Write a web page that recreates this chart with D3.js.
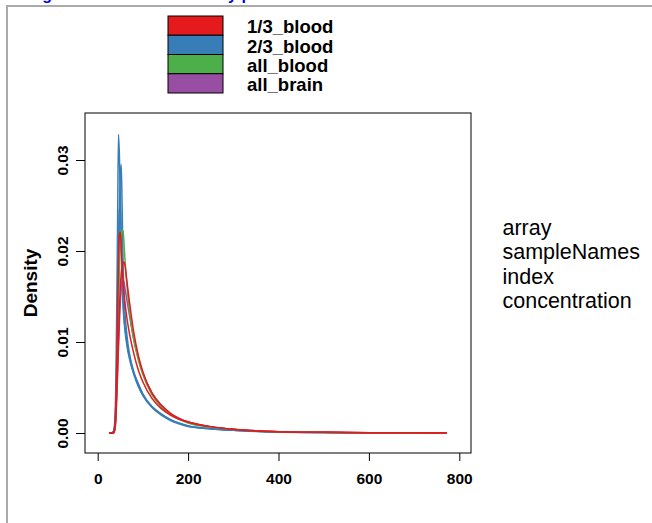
<!DOCTYPE html>
<html>
<head>
<meta charset="utf-8">
<script src="https://cdn.jsdelivr.net/npm/d3@7"></script>
<style>
  html, body { margin: 0; padding: 0; background: #fff; }
  svg { display: block; font-family: 'Liberation Sans', Arial, sans-serif; }
</style>
</head>
<body>
<svg id="chart" width="652" height="523"></svg>
<script>
// shared evaluation grid of the density estimates (intensity)
const xGrid = [25, 30, 35, 38, 40, 42, 44, 46, 48, 50, 52, 54, 56, 58, 60, 65, 70, 80, 90, 100, 120, 140, 160, 180, 200, 250, 300, 400, 500, 600, 700, 772]

const groupNames = ['1/3_blood', '2/3_blood', 'all_blood', 'all_brain']
const groupColors = ['#E41A1C', '#377EB8', '#4DAF4A', '#984EA3']

const blueA = [0, 0, 0.0002, 0.0015, 0.005, 0.013, 0.023, 0.0328, 0.0305, 0.026, 0.021, 0.0165, 0.014, 0.0125, 0.0114, 0.0095, 0.0082, 0.0064, 0.0051, 0.0041, 0.0028, 0.002, 0.0014, 0.001, 0.0007, 0.00045, 0.0003, 0.0001, 0.00005, 0.00003, 0.00001, 0]
const blueB = [0, 0, 0.0001, 0.0008, 0.002, 0.005, 0.01, 0.017, 0.024, 0.0285, 0.0295, 0.025, 0.019, 0.0155, 0.0135, 0.0106, 0.0088, 0.0067, 0.0054, 0.0043, 0.0029, 0.0021, 0.0015, 0.0011, 0.0008, 0.0005, 0.0003, 0.00011, 0.00005, 0.00003, 0.00001, 0]
const blueC = [0, 0, 0.0001, 0.001, 0.003, 0.008, 0.015, 0.021, 0.0245, 0.025, 0.022, 0.018, 0.015, 0.013, 0.0118, 0.0098, 0.0085, 0.0066, 0.0053, 0.0042, 0.0029, 0.0021, 0.0015, 0.00105, 0.00075, 0.00048, 0.0003, 0.0001, 0.00005, 0.00003, 0.00001, 0]
const greenA = [0, 0, 0, 0.0005, 0.0018, 0.005, 0.009, 0.014, 0.018, 0.0205, 0.0218, 0.0223, 0.0222, 0.021, 0.0193, 0.016, 0.0135, 0.0102, 0.008, 0.0064, 0.0042, 0.0029, 0.0021, 0.0015, 0.0011, 0.00065, 0.0004, 0.00014, 0.00006, 0.00003, 0.00001, 0]
const purpleA = [0, 0, 0, 0.0004, 0.0014, 0.0038, 0.0065, 0.0095, 0.012, 0.0142, 0.0158, 0.0166, 0.0168, 0.0166, 0.016, 0.0145, 0.013, 0.0102, 0.0082, 0.0066, 0.0044, 0.0031, 0.0022, 0.0016, 0.0012, 0.0007, 0.0004, 0.00015, 0.00007, 0.00004, 0.00002, 0]
const redA = [0, 0, 0.0001, 0.0008, 0.003, 0.007, 0.013, 0.019, 0.0218, 0.0221, 0.0205, 0.0185, 0.0168, 0.0155, 0.0145, 0.0125, 0.011, 0.0087, 0.0069, 0.0056, 0.0038, 0.0027, 0.002, 0.0015, 0.0012, 0.0007, 0.0004, 0.00015, 0.00007, 0.00004, 0.00002, 0]
const redB = [0, 0, 0, 0.0004, 0.0015, 0.004, 0.007, 0.01, 0.0135, 0.016, 0.0175, 0.0183, 0.0187, 0.0188, 0.0185, 0.0165, 0.0145, 0.011, 0.0085, 0.0067, 0.0044, 0.0031, 0.0022, 0.0016, 0.0012, 0.0007, 0.0004, 0.00015, 0.00007, 0.00004, 0.00002, 0]

// drawing order: last one ends up on top
const samples = [
  { group: 1, values: blueC },
  { group: 1, values: blueB },
  { group: 1, values: blueA },
  { group: 3, values: purpleA },
  { group: 2, values: greenA },
  { group: 0, values: redB },
  { group: 0, values: redA }
]

const xTicks = [0, 200, 400, 600, 800]
const yTicks = [0, 0.01, 0.02, 0.03]
const sideLabels = ['array', 'sampleNames', 'index', 'concentration']

const plot = { left: 85, top: 113, right: 471, bottom: 453 }

const svg = d3.select('#chart')

// page frame and the heading that is scrolled mostly out of view
svg.append('text')
  .attr('x', 4)
  .attr('y', 0)
  .attr('fill', '#0000ee')
  .style('font-weight', 'bold')
  .style('font-size', '16px')
  .text('Background corrected Density plots')

svg.append('line')
  .attr('x1', 6).attr('x2', 652).attr('y1', 6).attr('y2', 6)
  .attr('stroke', '#aaa').attr('stroke-width', 2)
svg.append('line')
  .attr('x1', 7).attr('x2', 7).attr('y1', 6).attr('y2', 523)
  .attr('stroke', '#aaa').attr('stroke-width', 2)

const x = d3.scaleLinear().domain([0, 800]).range([97.7, 459.3])
const y = d3.scaleLinear().domain([0, 0.03]).range([433, 160])

const line = d3.line()
  .x((d, i) => x(xGrid[i]))
  .y(d => y(d))
  .curve(d3.curveMonotoneX)

svg.append('g')
  .attr('class', 'density-lines')
  .selectAll('path')
  .data(samples)
  .enter()
  .append('path')
  .attr('d', d => line(d.values))
  .attr('fill', 'none')
  .attr('stroke', d => groupColors[d.group])
  .attr('stroke-width', 1.5)

svg.append('rect')
  .attr('x', plot.left)
  .attr('y', plot.top)
  .attr('width', plot.right - plot.left)
  .attr('height', plot.bottom - plot.top)
  .attr('fill', 'none')
  .attr('stroke', '#000')
  .attr('stroke-width', 1)

const xAxis = svg.append('g')
  .attr('transform', `translate(0,${plot.bottom})`)
  .call(d3.axisBottom(x).tickValues(xTicks).tickSize(8).tickPadding(0).tickFormat(d3.format('d')))
xAxis.select('.domain').remove()
xAxis.selectAll('line').attr('stroke', '#000')
xAxis.selectAll('text')
  .attr('y', 31)
  .attr('dy', 0)
  .attr('fill', '#000')
  .style('font-family', "'Liberation Sans', Arial, sans-serif")
  .style('font-weight', 'bold')
  .style('font-size', '15.5px')

const yAxis = svg.append('g')
  .attr('transform', `translate(${plot.left},0)`)
  .call(d3.axisLeft(y).tickValues(yTicks).tickSize(9).tickFormat(d3.format('.2f')))
yAxis.select('.domain').remove()
yAxis.selectAll('line').attr('stroke', '#000')
yAxis.selectAll('text')
  .attr('transform', 'rotate(-90)')
  .attr('x', 0)
  .attr('y', -17.5)
  .attr('dy', 0)
  .attr('text-anchor', 'middle')
  .attr('fill', '#000')
  .style('font-family', "'Liberation Sans', Arial, sans-serif")
  .style('font-weight', 'bold')
  .style('font-size', '15.5px')

svg.append('text')
  .attr('transform', `translate(37,${(plot.top + plot.bottom) / 2}) rotate(-90)`)
  .attr('text-anchor', 'middle')
  .style('font-weight', 'bold')
  .style('font-size', '19px')
  .text('Density')

// legend
const legend = svg.append('g').attr('class', 'legend')
const rowHeight = 19.25
groupNames.forEach((name, i) => {
  legend.append('rect')
    .attr('x', 168)
    .attr('y', 16 + i * rowHeight)
    .attr('width', 55)
    .attr('height', rowHeight)
    .attr('fill', groupColors[i])
    .attr('stroke', '#000')
    .attr('stroke-width', 1)
  legend.append('text')
    .attr('x', 247)
    .attr('y', 33.3 + i * rowHeight)
    .style('font-weight', 'bold')
    .style('font-size', '18.5px')
    .text(name)
})

// labels on the right
svg.append('g')
  .selectAll('text')
  .data(sideLabels)
  .enter()
  .append('text')
  .attr('x', 502.5)
  .attr('y', (d, i) => 235 + i * 24.3)
  .style('font-size', '21.5px')
  .text(d => d)
</script>
</body>
</html>
